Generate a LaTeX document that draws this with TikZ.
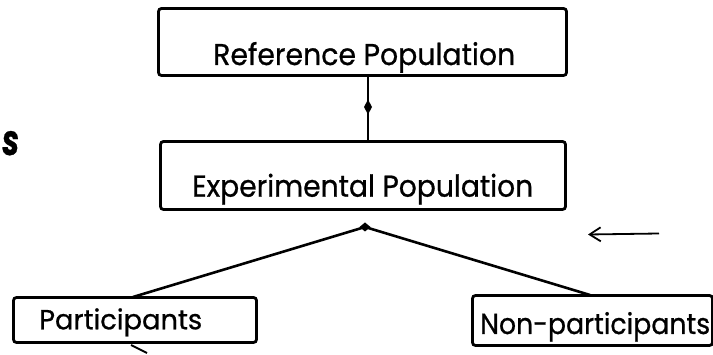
\documentclass[tikz,border=0pt]{standalone}
\usepackage{fontspec}
\setmainfont{Poppins}
\newfontfamily\lettering{Poppins}[FakeBold=0.8]
\usetikzlibrary{arrows.meta}
\begin{document}
\begin{tikzpicture}[x=1pt,y=-1pt,
  popbox/.style={draw, line width=2.8pt, rounded corners=3pt, inner sep=0pt, minimum width=#1},
  caption/.style={anchor=base west, inner sep=0pt, font=\lettering},
  branch/.style={line width=2.6pt}]
  \useasboundingbox (0,0) rectangle (713,355);

  % boxes
  \node[popbox=408pt, minimum height=67pt] (ref) at (362.5,42) {};
  \node[popbox=405pt, minimum height=68pt] (exp) at (363,175.5) {};
  \node[popbox=243pt, minimum height=45pt] (part) at (135,320) {};
  \node[popbox=240pt, minimum height=50pt] (nonpart) at (592.5,320.5) {};

  % labels
  \node[caption] (refT) at (213,65) {\resizebox{302pt}{23pt}{Reference Population}};
  \node[caption] (expT) at (192,196.7) {\resizebox{341pt}{23pt}{Experimental Population}};
  \node[caption] (partT) at (39,329.3) {\resizebox{163pt}{21pt}{Participants}};
  \node[caption] (nonpartT) at (480,334) {\resizebox{230pt}{22pt}{Non-participants}};

  % link from reference to experimental population
  \coordinate (refFoot) at (368,76);
  \coordinate (expHead) at (368,141);
  \draw[line width=2.2pt] (refFoot) -- (expHead);
  \fill (368,99.5) -- (372,107) -- (368,114.5) -- (364,107) -- cycle;

  % split into participants and non-participants
  \coordinate (apex) at (365,227);
  \coordinate (partTop) at (133,297);
  \coordinate (nonpartTop) at (590,295);
  \draw[branch] (partTop) -- (apex) -- (nonpartTop);
  \fill (365,222.5) -- (370.5,227) -- (365,231.5) -- (359.5,227) -- cycle;

  % short tail below the participants box
  \coordinate (tailA) at (131,345);
  \coordinate (tailB) at (147,353);
  \draw[line width=2pt] (tailA) -- (tailB);

  % pointer arrow at the right
  \coordinate (arrFrom) at (659,233.5);
  \coordinate (arrTo) at (588,234.5);
  \draw[line width=1.8pt, -{Straight Barb[length=11pt,width=14pt,line width=1.8pt]}] (arrFrom) -- (arrTo);

  % letter at the left margin
  \node[caption] (mark) at (2,155) {\resizebox{17pt}{24pt}{\bfseries\itshape s}};
\end{tikzpicture}
\end{document}
